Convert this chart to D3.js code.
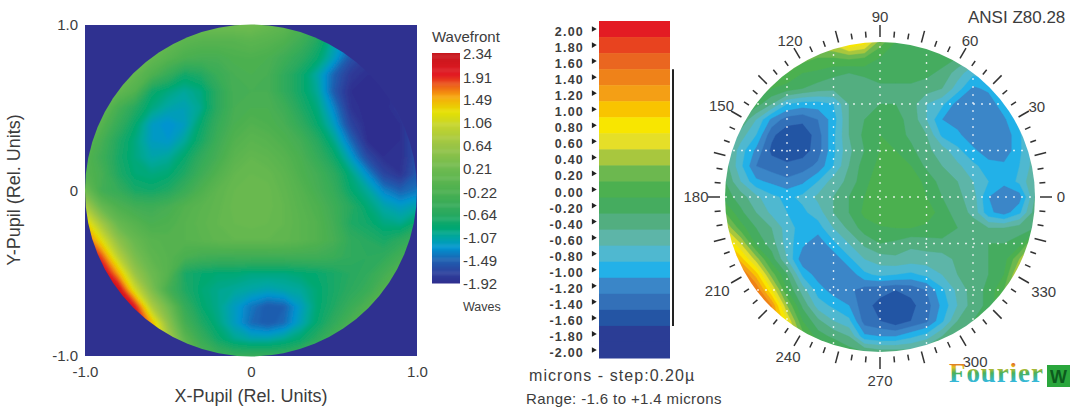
<!DOCTYPE html>
<html>
<head>
<meta charset="utf-8">
<title>Wavefront maps</title>
<script src="https://cdn.jsdelivr.net/npm/d3@7"></script>
<style>
  html, body { margin: 0; padding: 0; background: #fff; }
  text { font-family: "Liberation Sans", Arial, sans-serif; fill: #3c3c3c; }
</style>
</head>
<body>
<div id="chart"></div>
<script>
// Left map, rows run y = 1.0 down to -1.0, columns x = -1.0 to 1.0 (step 0.1)
var leftWave = [
  [.3,.3,.3,.3,.3,.25,.2,.2,.2,.2,.2,.1,0,-.2,-.5,-.9,-1.2,-1.5,-1.8,-1.9,-1.9],
  [.3,.3,.3,.3,.25,.1,-.05,-.1,-.1,-.1,-.05,-.1,-.2,-.4,-.7,-1.1,-1.4,-1.7,-1.9,-1.9,-1.9],
  [.3,.3,.3,.2,.05,-.1,-.25,-.3,-.3,-.22,-.2,-.25,-.4,-.6,-.85,-1.2,-1.6,-1.8,-1.9,-1.85,-1.85],
  [.3,.3,.2,.05,-.2,-.5,-.8,-.7,-.45,-.3,-.25,-.3,-.55,-.8,-1.1,-1.5,-1.8,-1.9,-1.9,-1.85,-1.8],
  [.3,.2,.05,-.15,-.8,-.95,-1.05,-.95,-.6,-.3,-.3,-.3,-.55,-.8,-1.05,-1.55,-1.9,-1.95,-1.95,-1.85,-1.7],
  [.2,.1,-.3,-.65,-.95,-1.1,-1.15,-1,-.6,-.3,-.25,-.25,-.4,-.7,-.95,-1.35,-1.85,-1.95,-1.95,-1.8,-1.6],
  [.1,-.1,-.5,-.85,-1.2,-1.3,-1.2,-.85,-.5,-.25,-.15,-.2,-.3,-.55,-.85,-1.2,-1.7,-1.95,-1.95,-1.9,-1.6],
  [0,-.3,-.7,-.95,-1.2,-1.25,-1.05,-.75,-.4,-.15,-.05,-.1,-.2,-.35,-.65,-1,-1.45,-1.9,-1.95,-1.9,-1.6],
  [-.1,-.4,-.75,-.95,-1.1,-1.05,-.85,-.55,-.3,-.05,.05,0,-.1,-.25,-.5,-.8,-1.2,-1.65,-1.9,-1.9,-1.6],
  [-.1,-.3,-.7,-.9,-.95,-.9,-.7,-.4,-.15,.05,.1,.08,-.02,-.2,-.35,-.6,-.95,-1.3,-1.7,-1.85,-1.55],
  [.2,-.35,-.5,-.75,-.8,-.7,-.45,-.2,0,.1,.15,.12,.02,-.12,-.3,-.5,-.85,-1.05,-1.35,-1.5,-1.4],
  [.8,.1,-.2,-.35,-.4,-.3,-.15,-.05,.03,.12,.15,.12,.05,-.08,-.2,-.4,-.65,-.9,-1.1,-1.2,-1.1],
  [1.4,.7,.1,-.1,-.25,-.2,-.1,-.02,.05,.1,.12,.1,.05,-.05,-.15,-.35,-.7,-.8,-.95,-1,-.8],
  [1.9,1.2,.5,.1,-.08,-.12,-.1,-.05,.02,.05,.05,.05,.02,-.05,-.15,-.3,-.55,-.65,-.75,-.6,-.4],
  [2.3,1.8,.9,.3,0,-.1,-.25,-.35,-.38,-.38,-.38,-.38,-.38,-.38,-.38,-.45,-.55,-.6,-.55,-.35,-.1],
  [2.4,2.3,1.5,.6,.15,-.1,-.75,-.85,-.9,-.9,-.95,-.95,-.95,-.9,-.85,-.75,-.65,-.55,-.35,-.1,.1],
  [2.4,2.4,2.2,1.1,.35,-.3,-.7,-.9,-1,-1.05,-1.1,-1.15,-1.1,-1.05,-.9,-.75,-.6,-.45,-.15,.1,.3],
  [2.4,2.4,2.4,2,.8,.2,-.5,-.85,-1,-1.2,-1.4,-1.55,-1.5,-1.2,-.9,-.7,-.45,-.2,.1,.3,.4],
  [2.4,2.4,2.4,2.3,1.5,.5,-.3,-.7,-.95,-1.2,-1.45,-1.55,-1.45,-1.15,-.85,-.55,-.25,.05,.3,.4,.5],
  [2.4,2.4,2.4,2.4,1.8,.8,0,-.45,-.8,-1,-1.1,-1.1,-1,-.85,-.6,-.3,0,.3,.4,.5,.5],
  [2.4,2.4,2.4,2.4,2,1,.3,-.2,-.4,-.5,-.5,-.5,-.5,-.4,-.2,0,.3,.4,.5,.5,.5]
];

// Right map, same layout, values in microns
var rightWave = [
  [.6,.6,.6,.6,.5,.5,.5,.6,1,.8,.2,-.1,-.2,-.2,-.2,-.2,-.3,-.4,-.4,-.4,-.4],
  [.4,.4,.4,.4,.3,.2,.1,.1,.15,.1,-.1,-.15,-.2,-.2,-.2,-.3,-.5,-.6,-.6,-.6,-.6],
  [.2,.2,.2,.2,.1,-.1,-.15,-.25,-.3,-.25,-.2,-.2,-.2,-.25,-.35,-.6,-.85,-.8,-.7,-.7,-.7],
  [.2,.2,.1,-.1,-.2,-.3,-.4,-.45,-.45,-.45,-.35,-.35,-.35,-.4,-.5,-.8,-1.15,-1.05,-.8,-.8,-.7],
  [-.1,-.1,-.2,-.5,-.9,-1,-1,-.9,-.5,-.35,-.3,-.3,-.4,-.7,-.85,-1.2,-1.25,-1.25,-.95,-.6,-.6],
  [-.2,-.3,-.7,-1.15,-1.4,-1.45,-1.3,-1,-.5,-.3,-.15,-.25,-.35,-.7,-1.1,-1.2,-1.3,-1.3,-1.15,-.8,-.6],
  [-.3,-.6,-.9,-1.45,-1.65,-1.65,-1.4,-.95,-.5,-.25,-.1,-.2,-.35,-.5,-.95,-1.05,-1.25,-1.3,-1.25,-.95,-.5],
  [-.4,-.8,-1.15,-1.55,-1.65,-1.6,-1.4,-.95,-.55,-.3,-.1,-.1,-.25,-.45,-.6,-.85,-1.05,-1.25,-1.25,-.95,-.6],
  [-.4,-.85,-1.3,-1.4,-1.45,-1.4,-1.25,-.9,-.5,-.2,-.05,-.02,-.1,-.35,-.5,-.65,-.85,-1,-1.05,-.9,-.6],
  [-.3,-.7,-1.05,-1.15,-1.25,-1.15,-.9,-.6,-.45,-.15,0,.02,0,-.15,-.4,-.5,-.7,-.9,-1.05,-.85,-.5],
  [-.2,-.4,-.65,-.85,-.95,-.85,-.65,-.5,-.3,-.1,.02,.04,.04,-.1,-.3,-.45,-.6,-1.1,-1.25,-1.2,-.5],
  [.1,-.25,-.5,-.75,-.9,-.95,-.8,-.5,-.3,-.05,.02,.04,.02,.02,-.2,-.4,-.55,-1.05,-1.2,-.95,-.4],
  [.5,0,-.3,-.5,-.8,-1,-1,-.7,-.45,-.2,-.12,-.1,-.1,-.15,-.2,-.3,-.4,-.5,-.5,-.4,-.3],
  [1,.5,-.15,-.4,-.8,-1.05,-1.25,-.95,-.7,-.45,-.3,-.35,-.45,-.4,-.35,-.35,-.35,-.3,-.3,-.2,.4],
  [1.4,1,.4,-.2,-.7,-1.25,-1.3,-1.25,-.95,-.7,-.6,-.55,-.6,-.6,-.6,-.45,-.4,-.3,-.2,.3,.9],
  [1.6,1.6,1,.2,-.3,-.95,-1.2,-1.3,-1.25,-.95,-.85,-.9,-.95,-.85,-.7,-.5,-.4,-.3,-.1,.6,1],
  [1.8,1.8,1.5,.7,-.1,-.6,-1,-1.2,-1.25,-1.4,-1.45,-1.5,-1.45,-1.3,-.95,-.65,-.4,-.25,.1,.8,1],
  [1.9,1.9,1.8,1.3,.3,-.35,-.8,-.95,-1.1,-1.45,-1.55,-1.7,-1.55,-1.4,-1.05,-.7,-.4,-.25,.2,.9,1],
  [1.9,1.9,1.8,1.4,.7,-.1,-.45,-.7,-.85,-1.4,-1.5,-1.65,-1.5,-1.35,-.95,-.5,-.3,-.15,.3,.9,1],
  [1.5,1.5,1.5,1.2,.8,.2,-.2,-.35,-.5,-1.05,-1.1,-1.1,-.95,-.8,-.5,-.3,-.2,0,.3,.6,.8],
  [.8,.8,.8,.8,.8,.5,.3,0,-.2,-.3,-.4,-.4,-.4,-.3,-.2,-.1,0,.1,.3,.5,.6]
];

var waveStops = [-1.92,-1.7,-1.49,-1.27,-1.07,-.9,-.64,-.22,.21,.64,1,1.25,1.53,1.93,2.34];
var waveColors = ["#2f2f8f","#2c45a0","#1d62b2","#0095d0","#00a6a0","#00a872","#2aa95f","#4cb050","#70bb50","#9cc545","#c5d52e","#e6e000","#f6a60c","#e31b23","#c4161c"];
var waveLabels = [2.34,1.91,1.49,1.06,.64,.21,-.22,-.64,-1.07,-1.49,-1.92];
var pupilTicks = [-1,0,1];

var bandValues = [2,1.8,1.6,1.4,1.2,1,.8,.6,.4,.2,0,-.2,-.4,-.6,-.8,-1,-1.2,-1.4,-1.6,-1.8,-2];
var bandColors = ["#e31b23","#e8431f","#ea6620","#ef8219","#f49f15","#f9c400","#f8e600","#e5df28","#a8c73e","#6cb84f","#4cb050","#45ac5f","#52ae80","#5db5a8","#4fb8d0","#23b1e8","#3a86c8","#3370b8","#2455a4","#2b3d95","#2b3d95"];
var rangeEnds = [1.4,-1.6];

var polarLabels = [0,30,60,90,120,150,180,210,240,270,300,330];
var polarGrid = [-.6,-.3,0,.3,.6];

// plain hyphen for negative labels, as in the original
d3.formatDefaultLocale({decimal: ".", thousands: ",", grouping: [3], currency: ["$", ""], minus: "-"});

var svg = d3.select("#chart").append("svg")
  .attr("width", 1075)
  .attr("height", 407)
  .style("display", "block");

var defs = svg.append("defs");
defs.append("filter").attr("id", "soft")
    .attr("x", "-5%").attr("y", "-5%").attr("width", "110%").attr("height", "110%")
  .append("feGaussianBlur").attr("stdDeviation", 1.6);
defs.append("filter").attr("id", "softer")
    .attr("x", "-5%").attr("y", "-5%").attr("width", "110%").attr("height", "110%")
  .append("feGaussianBlur").attr("stdDeviation", 0.7);

var logoGrad = defs.append("linearGradient").attr("id", "logoGrad")
  .attr("x1", 0).attr("y1", 0).attr("x2", 0).attr("y2", 1);
[["12%","#d9362a"],["30%","#e8c020"],["50%","#49b05a"],["78%","#35b8d8"]].forEach(function(s) {
  logoGrad.append("stop").attr("offset", s[0]).attr("stop-color", s[1]);
});

// turns one table into filled contour paths, grid point i sits at i + 0.5
function drawContours(group, rows, x, y, thresholds, fill) {
  var nx = rows[0].length, ny = rows.length;
  var gx = d3.scaleLinear().domain([0.5, nx - 0.5]).range([-1, 1]);
  var gy = d3.scaleLinear().domain([0.5, ny - 0.5]).range([1, -1]);
  var path = d3.geoPath(d3.geoTransform({
    point: function(a, b) { this.stream.point(x(gx(a)), y(gy(b))); }
  }));
  var contours = d3.contours().size([nx, ny]).thresholds(thresholds)(d3.merge(rows));
  group.selectAll("path")
    .data(contours)
    .enter().append("path")
      .attr("d", path)
      .attr("fill", function(d) { return fill(d.value); })
      .attr("stroke", function(d) { return fill(d.value); })
      .attr("stroke-width", 0.4);
}

/////////////////////
// Left map
/////////////////////
var xPupil = d3.scaleLinear().domain([-1, 1]).range([85, 417]);
var yPupil = d3.scaleLinear().domain([-1, 1]).range([356, 25]);
var waveColor = d3.scaleLinear().domain(waveStops).range(waveColors).clamp(true);
var pupilFormat = function(d) { return d === 0 ? "0" : d3.format(".1f")(d); };

svg.append("rect")
  .attr("x", xPupil(-1)).attr("y", yPupil(1))
  .attr("width", xPupil(1) - xPupil(-1)).attr("height", yPupil(-1) - yPupil(1))
  .attr("fill", "#2f3190");

defs.append("clipPath").attr("id", "leftClip").append("circle")
  .attr("cx", xPupil(0)).attr("cy", yPupil(0)).attr("r", (xPupil(1) - xPupil(-1)) / 2);

var leftMap = svg.append("g").attr("clip-path", "url(#leftClip)")
  .append("g").attr("filter", "url(#soft)");
drawContours(leftMap, leftWave, xPupil, yPupil, d3.range(-2.5, 2.5, 0.05), function(v) { return waveColor(v + 0.025); });

svg.append("g")
  .attr("transform", "translate(0,366)")
  .call(d3.axisBottom(xPupil).tickValues(pupilTicks).tickSize(0).tickFormat(pupilFormat))
  .call(function(g) { g.select(".domain").remove(); })
  .selectAll("text").style("font-size", "15px").attr("y", 0).attr("dy", "0.71em");

svg.append("g")
  .attr("transform", "translate(78,0)")
  .call(d3.axisLeft(yPupil).tickValues(pupilTicks).tickSize(0).tickFormat(pupilFormat))
  .call(function(g) { g.select(".domain").remove(); })
  .selectAll("text").style("font-size", "15px").attr("x", 0);

svg.append("text")
  .attr("x", 251).attr("y", 402)
  .attr("text-anchor", "middle")
  .style("font-size", "18px")
  .text("X-Pupil (Rel. Units)");

svg.append("text")
  .attr("transform", "translate(20,190) rotate(-90)")
  .attr("text-anchor", "middle")
  .style("font-size", "18px")
  .text("Y-Pupil (Rel. Units)");

// Wavefront colour bar
var yWave = d3.scaleLinear().domain([-1.92, 2.34]).range([283, 53]);
svg.append("g").selectAll("rect")
  .data(d3.range(-1.92, 2.34, 0.02))
  .enter().append("rect")
    .attr("x", 432)
    .attr("y", function(d) { return yWave(d + 0.02); })
    .attr("width", 28)
    .attr("height", function(d) { return yWave(d) - yWave(d + 0.02) + 0.5; })
    .attr("fill", function(d) { return waveColor(d); });

svg.append("text").attr("x", 432).attr("y", 42).style("font-size", "15px").text("Wavefront");

var yWaveLabel = d3.scaleLinear().domain([-1.92, 2.34]).range([284, 54]);
svg.append("g")
  .attr("transform", "translate(463,0)")
  .call(d3.axisRight(yWaveLabel).tickValues(waveLabels).tickSize(0).tickFormat(d3.format(".2f")))
  .call(function(g) { g.select(".domain").remove(); })
  .selectAll("text").style("font-size", "15px").attr("x", 0);

svg.append("text").attr("x", 463).attr("y", 311).style("font-size", "12.5px").text("Waves");

/////////////////////
// Step scale in the middle
/////////////////////
var yBand = d3.scaleBand().domain(bandValues).range([21, 358]);

svg.append("g").selectAll("rect")
  .data(bandValues)
  .enter().append("rect")
    .attr("x", 599)
    .attr("y", function(d) { return yBand(d); })
    .attr("width", 71)
    .attr("height", yBand.bandwidth() + 0.5)
    .attr("fill", function(d, i) { return bandColors[i]; });

svg.append("g").selectAll("text")
  .data(bandValues)
  .enter().append("text")
    .attr("x", 584)
    .attr("y", function(d) { return yBand(d) + yBand.bandwidth() / 2 + 7; })
    .attr("text-anchor", "end")
    .style("font-size", "12.5px")
    .style("font-weight", "bold")
    .style("letter-spacing", "1.2px")
    .text(function(d) { return d3.format(".2f")(d); });

svg.append("g").selectAll("path")
  .data(bandValues)
  .enter().append("path")
    .attr("d", d3.symbol(d3.symbolTriangle, 14))
    .attr("transform", function(d) { return "translate(593.5," + (yBand(d) + yBand.bandwidth() / 2) + ") rotate(90)"; })
    .attr("fill", "#222");

svg.append("line")
  .attr("x1", 673).attr("x2", 673)
  .attr("y1", yBand(rangeEnds[0])).attr("y2", yBand(rangeEnds[1]) + yBand.bandwidth())
  .attr("stroke", "#222")
  .attr("stroke-width", 2);

svg.append("text").attr("x", 529).attr("y", 381)
  .style("font-size", "16px").style("letter-spacing", "1.05px")
  .text("microns - step:0.20\u00b5");
svg.append("text").attr("x", 526).attr("y", 404)
  .style("font-size", "15px").style("letter-spacing", "0.38px")
  .text("Range: -1.6 to +1.4 microns");

/////////////////////
// Right polar map
/////////////////////
var cx = 880, cy = 197, radius = 155;
var xRight = d3.scaleLinear().domain([-1, 1]).range([cx - radius, cx + radius]);
var yRight = d3.scaleLinear().domain([-1, 1]).range([cy + radius, cy - radius]);
var bandColor = d3.scaleOrdinal().domain(bandValues).range(bandColors);

defs.append("clipPath").attr("id", "rightClip").append("circle")
  .attr("cx", cx).attr("cy", cy).attr("r", radius);

var rightClip = svg.append("g").attr("clip-path", "url(#rightClip)");
var rightMap = rightClip.append("g").attr("filter", "url(#softer)");
rightMap.append("rect")
  .attr("x", cx - radius - 5).attr("y", cy - radius - 5)
  .attr("width", 2 * radius + 10).attr("height", 2 * radius + 10)
  .attr("fill", bandColor(-2));

var bandEdges = bandValues.slice().reverse().map(function(v) { return +(v - 0.1).toFixed(1); });
drawContours(rightMap, rightWave, xRight, yRight, bandEdges, function(v) { return bandColor(+(v + 0.1).toFixed(1)); });

var gridDots = rightClip.append("g")
  .attr("stroke", "#fff")
  .attr("stroke-opacity", 0.8)
  .attr("stroke-width", 1.4)
  .attr("stroke-dasharray", "2 6");
gridDots.selectAll("line.h").data(polarGrid).enter().append("line")
  .attr("class", "h")
  .attr("x1", xRight(-1)).attr("x2", xRight(1))
  .attr("y1", yRight).attr("y2", yRight);
gridDots.selectAll("line.v").data(polarGrid).enter().append("line")
  .attr("class", "v")
  .attr("y1", yRight(-1)).attr("y2", yRight(1))
  .attr("x1", xRight).attr("x2", xRight);

var angle = d3.scaleLinear().domain([0, 360]).range([0, 2 * Math.PI]);
function polarX(deg, r) { return cx + r * Math.cos(angle(deg)); }
function polarY(deg, r) { return cy - r * Math.sin(angle(deg)); }

function tickLength(deg) {
  return deg % 15 === 0 ? 12 : 6;
}

svg.append("g").selectAll("line")
  .data(d3.range(0, 360, 5))
  .enter().append("line")
    .attr("x1", function(d) { return polarX(d, 160); })
    .attr("y1", function(d) { return polarY(d, 160); })
    .attr("x2", function(d) { return polarX(d, 160 + tickLength(d)); })
    .attr("y2", function(d) { return polarY(d, 160 + tickLength(d)); })
    .attr("stroke", "#333")
    .attr("stroke-width", 1.5);

// label distance from the centre differs a little round the dial
var labelRadius = d3.scaleOrdinal().domain(polarLabels).range([181,181,180,180,180,183,184,188,184,184,190,189]);

svg.append("g").selectAll("text")
  .data(polarLabels)
  .enter().append("text")
    .attr("x", function(d) { return polarX(d, labelRadius(d)); })
    .attr("y", function(d) { return polarY(d, labelRadius(d)); })
    .attr("text-anchor", "middle")
    .attr("dy", "0.35em")
    .style("font-size", "15px")
    .text(function(d) { return d; });

svg.append("text").attr("x", 968).attr("y", 23)
  .style("font-size", "17px")
  .text("ANSI Z80.28");

// Logo
svg.append("text").attr("x", 949).attr("y", 382)
  .style("font-family", "'Liberation Serif', serif")
  .style("font-size", "27px")
  .style("font-weight", "bold")
  .style("fill", "url(#logoGrad)")
  .style("letter-spacing", "0.9px")
  .text("Fourier");
svg.append("rect").attr("x", 1047).attr("y", 365).attr("width", 23).attr("height", 22).attr("fill", "#2aa63c");
svg.append("text").attr("x", 1058.5).attr("y", 383)
  .attr("text-anchor", "middle")
  .style("font-size", "18px")
  .style("font-weight", "bold")
  .style("fill", "#0c5a1c")
  .text("W");
</script>
</body>
</html>
